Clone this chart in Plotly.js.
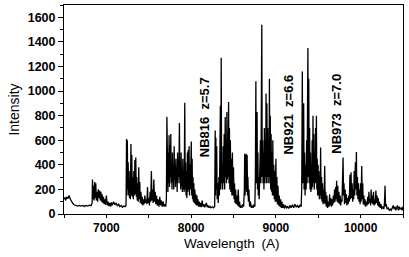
<!DOCTYPE html>
<html>
<head>
<meta charset="utf-8">
<script src="https://cdn.plot.ly/plotly-3.0.1.min.js"></script>
<style>html,body{margin:0;padding:0;background:#fff;}#chart{width:409px;height:257px;}</style>
</head>
<body>
<div id="chart"></div>
<script>
// Sky spectrum, band by band
const wlA = [6500,6510,6520,6530,6545,6560,6575,6590,6605,6620,6640,6660,6680,6700,6720,6740,6760,6780,6800,6820];
const inA = [120,135,110,140,125,150,120,100,85,75,70,65,70,65,70,62,70,65,72,68];

const wlB = [6832,6836,6842,6848,6855,6862,6868,6875,6882,6890,6897,6905,6912,6920,6928,6935,6943,6950,6958,6966,6974,6982,6990,7000,7010,7020,7030,7040,7050,7060,7070,7085,7100,7115,7130,7145,7160,7175,7190,7205,7220,7230];
const inB = [90,280,120,230,110,260,130,250,110,180,100,200,130,190,110,180,100,160,90,140,80,120,75,150,70,100,65,90,60,95,70,100,75,90,65,80,60,70,55,65,60,70];

const wlC = [7232,7238,7242,7247,7252,7257,7262,7268,7273,7278,7283,7290,7295,7300,7306,7312,7318,7324,7330,7336,7341,7347,7353,7358,7364,7370,7376,7382,7388,7394,7400,7408,7415,7422,7430,7438,7446,7454,7462,7470,7478,7485,7492,7500,7508,7516,7524,7531,7538,7545,7552,7560,7568,7576,7584,7592,7600,7610,7620,7630,7640,7650,7660,7670,7680,7690,7700,7708];
const inC = [70,610,150,600,200,420,150,350,130,250,120,570,150,480,140,300,120,350,150,440,160,460,140,300,110,250,100,380,120,260,90,180,80,140,70,120,80,150,90,120,80,220,90,130,70,180,100,350,110,200,90,280,100,180,80,150,70,120,60,140,70,110,60,100,60,80,60,120];

const wlD = [7714,7718,7722,7726,7730,7735,7740,7745,7750,7755,7760,7765,7770,7775,7780,7785,7790,7795,7800,7805,7810,7815,7820,7825,7830,7835,7840,7845,7850,7855,7862,7867,7872,7877,7882,7887,7892,7897,7902,7907,7912,7918,7925,7930,7935,7940,7945,7950,7956,7961,7966,7971,7976,7981,7986,7991,7996,8002,8007,8012,8017,8022,8027,8032,8038,8044,8050,8056,8062,8068,8074,8080,8088,8096,8104,8112,8120,8130,8140,8150,8160,8170,8180,8190,8200,8210,8220,8235,8250,8265,8278];
const inD = [790,200,620,180,500,250,640,220,560,300,650,250,420,200,500,260,380,200,550,280,400,220,450,250,380,180,500,250,380,300,740,250,420,200,500,220,380,180,450,200,350,180,905,200,420,150,350,130,500,180,520,200,550,150,400,200,300,590,150,450,120,300,100,250,90,200,80,160,70,150,70,120,60,100,60,90,55,110,60,80,55,70,90,55,70,50,65,50,60,50,60];

const wlE = [8284,8288,8292,8297,8302,8307,8313,8320,8328,8334,8340,8345,8350,8355,8360,8366,8372,8378,8384,8390,8396,8402,8407,8412,8417,8422,8427,8432,8437,8442,8447,8452,8457,8463,8469,8475,8481,8487,8493,8500,8506,8512,8518,8525,8532,8540,8548,8556,8564,8572,8580,8590,8600,8610];
const inE = [680,150,620,200,550,120,250,90,300,150,500,880,200,1270,250,400,200,550,250,650,200,790,300,600,250,830,280,650,300,910,250,700,200,600,180,450,150,500,150,380,120,250,90,200,80,150,70,200,60,100,50,70,50,80];

const wlF = [8620,8628,8632,8637,8641,8646,8651,8656,8661,8666,8670,8676,8682,8690,8700,8710,8720,8732,8744,8752];
const inF = [60,200,490,150,480,200,490,180,480,150,300,100,200,60,100,50,70,50,80,60];

const wlG = [8758,8764,8768,8773,8778,8783,8788,8793,8798,8803,8808,8813,8818,8823,8828,8834,8839,8844,8849,8854,8859,8864,8869,8874,8879,8884,8889,8894,8899,8904,8909,8914,8919,8924,8929,8934,8939,8944,8949,8954,8959,8964,8969,8975,8981,8987,8993,9000,9006,9012,9018,9025,9032,9040,9048,9056,9064,9072,9080,9090,9100,9112,9125,9138,9150,9165,9180,9195,9210,9225,9240,9255,9270,9285,9298];
const inG = [300,1080,250,700,830,200,500,150,300,120,450,200,600,250,800,1540,300,600,250,500,200,700,250,600,300,980,250,900,300,700,250,600,300,1100,250,800,200,650,180,500,150,600,150,400,120,350,100,450,100,300,80,230,70,150,60,120,50,100,50,80,45,70,50,60,45,70,50,75,50,80,55,70,50,75,60];

const wlH = [9305,9312,9317,9322,9328,9333,9339,9345,9351,9357,9363,9368,9373,9378,9383,9388,9393,9398,9403,9408,9413,9418,9423,9428,9433,9438,9443,9448,9453,9458,9463,9468,9473,9478,9483,9488,9493,9498,9503,9508,9513,9518,9523,9528,9533,9539,9545,9551,9557,9563,9569,9576,9582,9588,9595,9602,9610,9618,9626];
const inH = [200,1160,250,700,900,200,500,150,400,200,600,250,900,1350,300,1100,250,700,200,500,180,400,200,600,220,800,250,650,200,500,250,700,250,800,200,450,150,400,150,350,120,300,150,540,120,300,100,250,80,200,90,390,80,180,60,150,50,100,60];

const wlI = [9634,9640,9648,9655,9662,9670,9678,9685,9692,9698,9705,9711,9717,9723,9730,9737,9744,9751,9758,9765,9772,9780,9787,9793,9798,9804,9810,9817,9824,9831,9838,9845,9852,9860,9867,9874,9880,9887,9893,9900,9906,9912,9918,9924,9930,9938,9944,9950,9956,9962,9968,9975,9981,9988,9994,10000,10006,10013,10019,10025,10031,10038,10045,10052,10060,10068,10076,10084,10091,10098,10104,10111,10118,10124,10130,10137,10144,10152,10159,10166,10173,10180,10187,10194,10201,10208,10215,10222,10230,10240,10250,10262,10274,10282,10288,10294,10302,10312,10325,10338,10350,10362,10375,10385,10395,10405,10415,10425,10435,10445,10455,10465,10478,10490,10500];
const inI = [160,70,130,60,120,70,150,90,200,100,220,120,270,100,230,90,180,80,150,70,120,100,300,460,150,250,80,200,90,160,70,130,80,150,100,320,120,340,130,250,100,200,120,350,150,420,200,505,150,300,120,250,100,200,80,250,100,390,120,250,80,150,70,120,60,100,70,140,80,180,90,120,70,200,90,150,80,180,70,120,80,190,90,150,70,130,60,100,50,80,40,60,40,100,230,60,80,40,50,30,40,30,50,70,40,60,30,50,70,30,60,40,50,30,60];

const xTicks = [7000, 8000, 9000, 10000];
const yTicks = [0, 200, 400, 600, 800, 1000, 1200, 1400, 1600];
const filterLabels = ['NB816\u00A0\u00A0z=5.7', 'NB921\u00A0\u00A0z=6.6', 'NB973\u00A0\u00A0z=7.0'];
const filterWl = [8167, 9138, 9720];
const filterY = [790, 805, 815];

const wl = [].concat(wlA, wlB, wlC, wlD, wlE, wlF, wlG, wlH, wlI);
const inten = [].concat(inA, inB, inC, inD, inE, inF, inG, inH, inI);

const tickFont = {family: 'Arial, Liberation Sans, sans-serif', size: 12.5, color: '#000', weight: 'bold'};

const trace = {
  x: wl, y: inten, type: 'scatter', mode: 'lines',
  line: {color: '#000', width: 1.3}, hoverinfo: 'skip'
};

const annotations = filterLabels.map((t, i) => ({
  x: filterWl[i], y: filterY[i], xref: 'x', yref: 'y',
  text: t, textangle: -90, showarrow: false,
  font: {family: 'Arial, Liberation Sans, sans-serif', size: 13, color: '#000', weight: 'bold'}
}));
annotations.push({
  x: 0.5, y: 0, xref: 'paper', yref: 'paper', yshift: -29, xshift: -2,
  xanchor: 'center', yanchor: 'middle', showarrow: false,
  text: 'Wavelength\u2002(A)',
  font: {family: 'Arial, Liberation Sans, sans-serif', size: 13.5, color: '#000'}
});

const layout = {
  width: 409, height: 257,
  margin: {l: 64, r: 6, t: 5, b: 43, pad: 0},
  paper_bgcolor: '#fff', plot_bgcolor: '#fff',
  showlegend: false,
  xaxis: {
    range: [6500, 10500], tickvals: xTicks, ticktext: xTicks.map(String),
    ticks: 'outside', ticklen: 3, tickwidth: 1, tickcolor: '#000',
    minor: {dtick: 500, tick0: 6500, ticks: 'outside', ticklen: 3, tickcolor: '#000'},
    showline: true, linecolor: '#000', linewidth: 1, mirror: true,
    showgrid: false, zeroline: false,
    tickfont: {family: 'Arial, Liberation Sans, sans-serif', size: 12, color: '#000', weight: 'bold'}
  },
  yaxis: {
    range: [0, 1700], tickvals: yTicks, ticktext: yTicks.map(String),
    ticks: 'outside', ticklen: 5, tickwidth: 1, tickcolor: '#000',
    minor: {dtick: 100, tick0: 0, ticks: 'outside', ticklen: 3, tickcolor: '#000'},
    showline: true, linecolor: '#000', linewidth: 1, mirror: true,
    showgrid: false, zeroline: false, tickfont: tickFont,
    title: {text: 'Intensity', font: {family: 'Liberation Sans Narrow, Arial Narrow, Arial, sans-serif', size: 14, color: '#000'}, standoff: 4}
  },
  annotations: annotations
};

Plotly.newPlot('chart', [trace], layout, {staticPlot: true, displayModeBar: false});
</script>
</body>
</html>
